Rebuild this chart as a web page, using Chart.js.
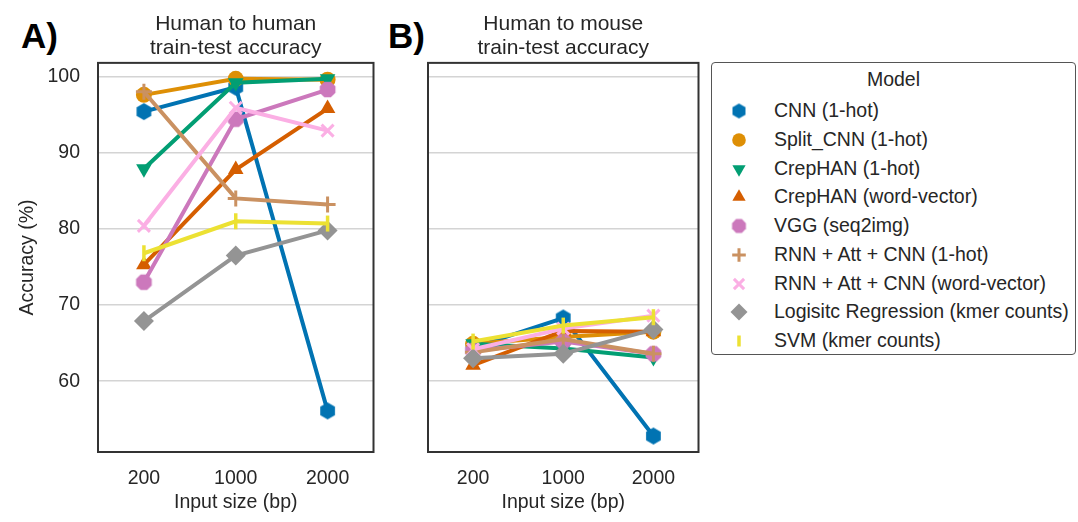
<!DOCTYPE html>
<html>
<head>
<meta charset="utf-8">
<script src="https://cdn.jsdelivr.net/npm/chart.js@4/dist/chart.umd.min.js"></script>
<style>
  html, body { margin:0; padding:0; background:#fff; }
  body { width:1078px; height:522px; position:relative; overflow:hidden; font-family:"Liberation Sans", Arial, sans-serif; }
  .panel-label { position:absolute; font-weight:bold; font-size:35px; color:#000; }
  #wrapA { position:absolute; left:0; top:0; width:385px; height:522px; }
  #wrapB { position:absolute; left:385px; top:0; width:325px; height:522px; }
  #legend { position:absolute; left:711px; top:62px; width:363px; height:291px; border:1.5px solid #555; border-radius:4px; box-sizing:content-box; }
  #legend .ttl { position:absolute; left:0; width:100%; top:5px; text-align:center; font-size:19.5px; color:#262626; }
  #legend .row { position:absolute; left:0; height:26px; width:100%; }
  #legend .row canvas { position:absolute; left:14px; top:0; }
  #legend .row span { position:absolute; left:62px; top:1px; font-size:19.5px; color:#262626; white-space:nowrap; }
</style>
</head>
<body>
<div class="panel-label" style="left:21px;top:16px;">A)</div>
<div class="panel-label" style="left:388px;top:16px;">B)</div>
<div id="wrapA"><canvas id="chartA"></canvas></div>
<div id="wrapB"><canvas id="chartB"></canvas></div>
<div id="legend"></div>
<script>
// ---------- data ----------
const categories = ['200', '1000', '2000'];
const modelNames = ['CNN (1-hot)', 'Split_CNN (1-hot)', 'CrepHAN (1-hot)', 'CrepHAN (word-vector)', 'VGG (seq2img)',
  'RNN + Att + CNN (1-hot)', 'RNN + Att + CNN (word-vector)', 'Logisitc Regression (kmer counts)', 'SVM (kmer counts)'];
const yTickValues = [60, 70, 80, 90, 100];

// Human to human
const hhCNN      = [95.4, 98.6, 56.1];
const hhSplitCNN = [97.6, 99.7, 99.6];
const hhCrepHot  = [87.9, 99.2, 99.7];
const hhCrepWV   = [75.3, 87.8, 95.8];
const hhVGG      = [73.0, 94.4, 98.3];
const hhRnnHot   = [98.0, 84.0, 83.2];
const hhRnnWV    = [80.4, 95.9, 92.9];
const hhLogReg   = [67.9, 76.5, 79.8];
const hhSVM      = [76.8, 81.0, 80.7];

// Human to mouse
const hmCNN      = [64.4, 68.3, 52.8];
const hmSplitCNN = [64.9, 65.8, 66.5];
const hmCrepHot  = [64.9, 64.3, 63.1];
const hmCrepWV   = [62.1, 66.6, 66.5];
const hmVGG      = [64.0, 65.2, 63.6];
const hmRnnHot   = [63.8, 65.5, 63.6];
const hmRnnWV    = [64.2, 66.9, 68.6];
const hmLogReg   = [63.0, 63.6, 66.8];
const hmSVM      = [65.2, 67.3, 68.4];

const humanToHuman = [hhCNN, hhSplitCNN, hhCrepHot, hhCrepWV, hhVGG, hhRnnHot, hhRnnWV, hhLogReg, hhSVM];
const humanToMouse = [hmCNN, hmSplitCNN, hmCrepHot, hmCrepWV, hmVGG, hmRnnHot, hmRnnWV, hmLogReg, hmSVM];

// ---------- styles ----------
const colors = ['#0173B2', '#DE8F05', '#029E73', '#D55E00', '#CC78BC', '#CA9161', '#FBAFE4', '#949494', '#ECE133'];
const FONT = '"Liberation Sans", Arial, sans-serif';
const TEXT = '#262626';
const FS = 19.5;

function polygonCanvas(sides, r, color, rot) {
  const s = Math.ceil(r * 2 + 2);
  const c = document.createElement('canvas');
  c.width = s; c.height = s;
  const ctx = c.getContext('2d');
  ctx.fillStyle = color;
  ctx.beginPath();
  for (let k = 0; k < sides; k++) {
    const a = rot + k * 2 * Math.PI / sides;
    const px = s / 2 + r * Math.cos(a), py = s / 2 + r * Math.sin(a);
    if (k === 0) ctx.moveTo(px, py); else ctx.lineTo(px, py);
  }
  ctx.closePath();
  ctx.fill();
  return c;
}
const hexImg = polygonCanvas(6, 8.5, colors[0], -Math.PI / 2);
const octImg = polygonCanvas(8, 8.5, colors[4], Math.PI / 8);

const markers = [
  { pointStyle: hexImg, radius: 8.5, rotation: 0, bw: 0 },
  { pointStyle: 'circle', radius: 8, rotation: 0, bw: 0 },
  { pointStyle: 'triangle', radius: 9, rotation: 180, bw: 0 },
  { pointStyle: 'triangle', radius: 9, rotation: 0, bw: 0 },
  { pointStyle: octImg, radius: 8.5, rotation: 0, bw: 0 },
  { pointStyle: 'cross', radius: 8, rotation: 0, bw: 3 },
  { pointStyle: 'crossRot', radius: 8.5, rotation: 0, bw: 3 },
  { pointStyle: 'rectRot', radius: 10, rotation: 0, bw: 0 },
  { pointStyle: 'line', radius: 8, rotation: 90, bw: 3.5 }
];

function makeDatasets(series) {
  return series.map((vals, i) => ({
    label: modelNames[i],
    data: vals,
    borderColor: colors[i],
    backgroundColor: colors[i],
    borderWidth: 4,
    pointStyle: markers[i].pointStyle,
    pointRadius: markers[i].radius,
    pointHoverRadius: markers[i].radius,
    pointRotation: markers[i].rotation,
    pointBorderWidth: markers[i].bw,
    pointBorderColor: colors[i],
    pointBackgroundColor: colors[i],
    tension: 0,
    order: series.length - i,
    clip: false
  }));
}

const frame = {
  id: 'frame',
  afterDatasetsDraw(chart) {
    const a = chart.chartArea, ctx = chart.ctx;
    ctx.save();
    ctx.strokeStyle = '#333';
    ctx.lineWidth = 2;
    ctx.strokeRect(a.left, a.top, a.right - a.left, a.bottom - a.top);
    ctx.restore();
  }
};

function makeChart(id, series, title, showY, yWidth, rightPad) {
  return new Chart(document.getElementById(id), {
    type: 'line',
    data: { labels: categories, datasets: makeDatasets(series) },
    plugins: [frame],
    options: {
      responsive: true,
      maintainAspectRatio: false,
      animation: false,
      events: [],
      layout: { padding: { top: 12, right: rightPad, bottom: 0, left: 0 } },
      plugins: {
        legend: { display: false },
        tooltip: { enabled: false },
        title: {
          display: true,
          fullSize: false,
          text: title,
          color: TEXT,
          font: { family: FONT, size: 21, weight: 'normal', lineHeight: 1.14 },
          padding: { top: 0, bottom: 3 }
        }
      },
      scales: {
        x: {
          type: 'category',
          offset: true,
          grid: { display: false, drawTicks: false },
          border: { display: false },
          ticks: { color: TEXT, font: { family: FONT, size: FS }, padding: 15, maxRotation: 0 },
          title: { display: true, text: 'Input size (bp)', color: TEXT, font: { family: FONT, size: FS }, padding: { top: 0, bottom: 8 } },
          afterFit(scale) { scale.height = 70; }
        },
        y: {
          min: 50.7,
          max: 101.8,
          afterBuildTicks(scale) { scale.ticks = yTickValues.map(v => ({ value: v })); },
          grid: { color: '#d4d4d4', lineWidth: 1.5, drawTicks: false },
          border: { display: false },
          ticks: { display: showY, color: TEXT, font: { family: FONT, size: FS }, padding: 18 },
          title: { display: showY, text: 'Accuracy (%)', color: TEXT, font: { family: FONT, size: FS }, padding: { top: 16, bottom: 0 } },
          afterFit(scale) { scale.width = yWidth; }
        }
      }
    }
  });
}

makeChart('chartA', humanToHuman, ['Human to human', 'train-test accuracy'], true, 98, 8);
makeChart('chartB', humanToMouse, ['Human to mouse', 'train-test accuracy'], false, 43, 10);

// ---------- legend ----------
const legend = document.getElementById('legend');
const ttl = document.createElement('div');
ttl.className = 'ttl';
ttl.textContent = 'Model';
legend.appendChild(ttl);
modelNames.forEach((name, i) => {
  const row = document.createElement('div');
  row.className = 'row';
  row.style.top = (35 + i * 28.75) + 'px';
  const c = document.createElement('canvas');
  c.width = 26; c.height = 26;
  row.appendChild(c);
  const ctx = c.getContext('2d');
  ctx.fillStyle = colors[i];
  ctx.strokeStyle = colors[i];
  ctx.lineWidth = markers[i].bw || 1;
  const r = markers[i].pointStyle === 'line' ? 5.5 : markers[i].radius * 0.85;
  let ps = markers[i].pointStyle;
  if (i === 0) ps = polygonCanvas(6, 7.5, colors[0], -Math.PI / 2);
  if (i === 4) ps = polygonCanvas(8, 7.5, colors[4], Math.PI / 8);
  Chart.helpers.drawPoint(ctx, { pointStyle: ps, radius: r, rotation: markers[i].rotation, borderWidth: markers[i].bw || 0 }, 13, 13);
  const sp = document.createElement('span');
  sp.textContent = name;
  row.appendChild(sp);
  legend.appendChild(row);
});
</script>
</body>
</html>
